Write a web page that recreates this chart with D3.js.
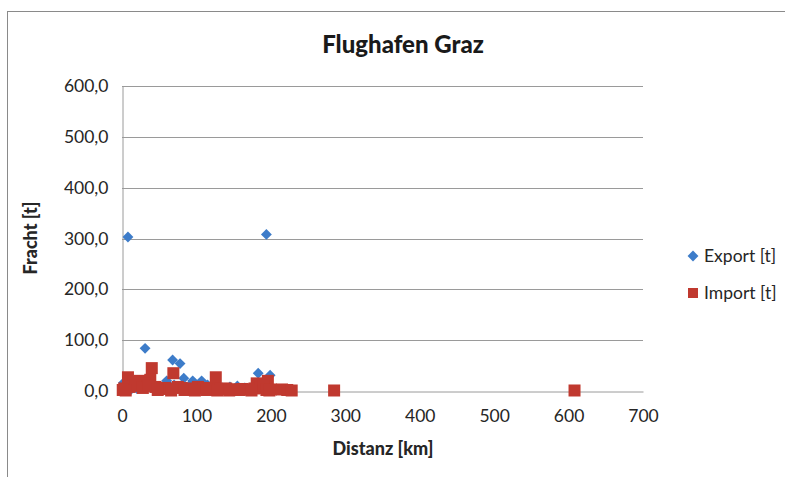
<!DOCTYPE html>
<html><head><meta charset="utf-8">
<script src="https://cdn.jsdelivr.net/npm/d3@7/dist/d3.min.js"></script>
<style>body{margin:0;background:#fff;font-family:Lato,"Open Sans",sans-serif;}</style>
</head><body><svg id="c" width="785" height="477"></svg>
<script>
const title = "Flughafen Graz";
const xLabel = "Distanz [km]";
const yLabel = "Fracht [t]";
const seriesNames = ["Export [t]", "Import [t]"];
const xTicks = [0,100,200,300,400,500,600,700];
const yTicks = [0,100,200,300,400,500,600];
const exportDist = [8,194,31,68,78,83,95,107,60,183,199,155,2,5,20,40,50,70,90,115,125,135,145,165,175,188,192,12,45,100,140];
const exportVal  = [303,308,84,61,54,25,20,20,20,35,31,10,16,8,5,10,8,12,10,12,8,6,8,6,5,12,15,3,3,4,2];
const importDist = [8,40,69,126,24,196,181,38,15,30,3,10,18,28,35,45,52,58,63,75,80,88,95,102,110,118,133,140,148,155,162,170,178,186,190,200,1,215,222,228,285,608,5,48,66,84,98,114,128,144,158,174,194,198];
const importVal  = [27,45,35,27,20,20,15,22,18,15,5,8,10,6,10,8,5,6,4,8,6,5,4,8,6,5,4,5,3,3,4,3,5,6,10,3,2,3,2,1,1,1,1,2,1,2,1,2,1,1,2,1,2,1];

const blue = "#3D7CC9", red = "#C0392F";
const svg = d3.select("#c");
svg.append("rect").attr("x",7.5).attr("y",11.5).attr("width",800).attr("height",500)
  .attr("fill","#fff").attr("stroke","#8a8a8a").attr("stroke-width",1);

const x = d3.scaleLinear().domain([0,700]).range([122,643]);
const y = d3.scaleLinear().domain([0,600]).range([391,86]);

svg.append("g").selectAll("line").data(yTicks.filter(d=>d>0)).join("line")
  .attr("x1",x(0)).attr("x2",x(700)).attr("y1",d=>Math.round(y(d))+0.5).attr("y2",d=>Math.round(y(d))+0.5)
  .attr("stroke","#9a9a9a").attr("stroke-width",1);

const fmt = d => d3.format(".1f")(d).replace(".", ",");
const yAxis = d3.axisLeft(y).tickValues(yTicks).tickFormat(fmt).tickSize(0).tickPadding(14);
const gy = svg.append("g").attr("transform",`translate(${x(0)+0.5},0)`).call(yAxis);
const xAxis = d3.axisBottom(x).tickValues(xTicks).tickFormat(d3.format("d")).tickSize(0).tickPadding(18);
const gx = svg.append("g").attr("transform",`translate(0,${Math.round(y(0))+0.5})`).call(xAxis);
[gx,gy].forEach(g=>{
  g.select(".domain").attr("stroke","#9a9a9a");
  g.selectAll("text").attr("font-family","Lato,sans-serif").attr("font-size",17.5).attr("fill","#262626");
});

const exportData = exportDist.map((d,i)=>({x:d,y:exportVal[i]}));
const importData = importDist.map((d,i)=>({x:d,y:importVal[i]}));
const diamond = d3.symbol().type(d3.symbolDiamond2).size(75);
svg.append("g").selectAll("path").data(exportData).join("path")
  .attr("d",diamond).attr("transform",d=>`translate(${x(d.x)},${y(d.y)})`)
  .attr("fill",blue);
const sq = 12;
svg.append("g").selectAll("rect").data(importData).join("rect")
  .attr("x",d=>x(d.x)-sq/2).attr("y",d=>y(d.y)-sq/2).attr("width",sq).attr("height",sq)
  .attr("fill",red);

svg.append("text").attr("x",403).attr("y",53).attr("text-anchor","middle")
  .attr("font-family","Lato,sans-serif").attr("font-weight","900").attr("font-size",24).attr("fill","#1a1a1a").text(title);
svg.append("text").attr("x",383).attr("y",455).attr("text-anchor","middle")
  .attr("font-family","Lato,sans-serif").attr("font-weight","900").attr("font-size",18).attr("fill","#262626").text(xLabel);
svg.append("text").attr("transform","translate(37,238) rotate(-90)").attr("text-anchor","middle")
  .attr("font-family","Lato,sans-serif").attr("font-weight","900").attr("font-size",18).attr("fill","#262626").text(yLabel);

const lg = svg.append("g");
lg.append("path").attr("d",diamond).attr("transform","translate(693,256)").attr("fill",blue);
lg.append("rect").attr("x",688).attr("y",288).attr("width",10).attr("height",10).attr("fill",red);
lg.selectAll("text").data(seriesNames).join("text")
  .attr("x",704).attr("y",(d,i)=>262+i*37).attr("font-family","Lato,sans-serif").attr("font-size",17.5).attr("fill","#262626").text(d=>d);
</script></body></html>
